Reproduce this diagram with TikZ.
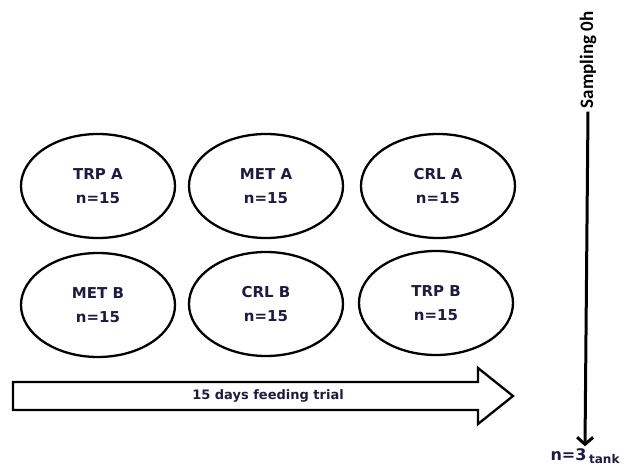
\documentclass[tikz,border=0pt]{standalone}
\usepackage{fontspec}
\setmainfont{DejaVu Sans}
\newfontfamily\calib{Carlito}
\usetikzlibrary{shapes.geometric,arrows.meta}

\definecolor{labelnavy}{RGB}{28,28,62}

\tikzset{
  group/.style={draw, ellipse, line width=2.3pt, minimum width=154pt, minimum height=104pt,
    inner sep=0pt, align=center, text=labelnavy, font=\bfseries\fontsize{15}{24}\selectfont},
  bigarrow/.style={draw, line width=2.3pt, line join=miter},
}

\begin{document}
\begin{tikzpicture}[x=1pt,y=-1pt]
    \useasboundingbox (0,0) rectangle (630,466);

    % draw groups
    \foreach \nm/\x/\y/\lab in {trpa/98/186/TRP A, meta/266/186/MET A, crla/438/186/CRL A,
                                metb/98/305/MET B, crlb/266/304/CRL B, trpb/436/303/TRP B}
      \node[group] (\nm) at (\x,\y) {\lab\\n=15};

    % draw feeding arrow
    \draw[bigarrow] (13,382) -- (478,382) -- (478,368) -- (513,396)
      -- (478,424) -- (478,410) -- (13,410) -- cycle;
    \node[text=labelnavy, font=\bfseries\fontsize{13}{13}\selectfont] (trial) at (268,396) {15 days feeding trial};

    % draw sampling line
    \node[rotate=90, inner sep=3pt, font=\calib\bfseries\fontsize{19}{19}\selectfont] (sampling) at (588,60) {Sampling 0h};
    \node[text=labelnavy, font=\bfseries\fontsize{16}{16}\selectfont, inner sep=2pt] (ntank) at (585,456)
      {n=3\,\raisebox{-3pt}{\fontsize{12}{12}\selectfont tank}};
    \draw[line width=3pt, -{Straight Barb[length=7pt,width=16pt]}] (sampling.west) -- (ntank.north);

\end{tikzpicture}
\end{document}
